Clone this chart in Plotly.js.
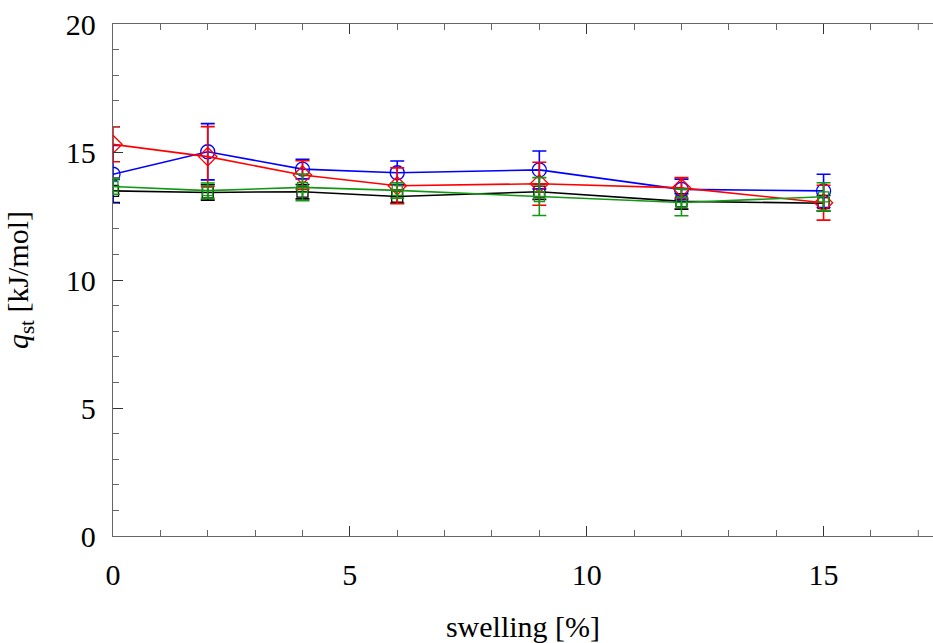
<!DOCTYPE html>
<html>
<head>
<meta charset="utf-8">
<script src="https://cdn.plot.ly/plotly-3.0.1.min.js"></script>
<style>
  html, body { margin: 0; padding: 0; overflow: hidden; background: #fff; }
  #chart { width: 933px; height: 643px; }
</style>
</head>
<body>
<div id="chart"></div>
<script>
// swelling levels [%]
const swelling = [0, 2, 4, 6, 9, 12, 15];

// isosteric heat q_st [kJ/mol] and its uncertainty, one pair per series
const blackQ   = [13.48, 13.42, 13.45, 13.26, 13.45, 13.07, 13.00];
const blackErr = [0.45, 0.30, 0.28, 0.25, 0.30, 0.30, 0.30];

const blueQ    = [14.13, 15.01, 14.33, 14.19, 14.30, 13.54, 13.48];
const blueErr  = [1.13, 1.10, 0.38, 0.46, 0.74, 0.40, 0.65];

const redQ     = [15.30, 14.82, 14.10, 13.68, 13.76, 13.60, 13.02];
const redErr   = [0.68, 1.17, 0.56, 0.70, 0.84, 0.40, 0.68];

const greenQ   = [13.65, 13.49, 13.62, 13.50, 13.26, 13.03, 13.25];
const greenErr = [0.30, 0.30, 0.52, 0.30, 0.74, 0.52, 0.55];

// axis tick positions
const xMajor = [0, 5, 10, 15];
const xMinor = [1, 2, 3, 4, 6, 7, 8, 9, 11, 12, 13, 14, 16];
const xEdgeMinor = 17;   // drawn as short shape ticks (a minor tick here renders full height)
const yMajor = [0, 5, 10, 15, 20];

function series(y, err, color, symbol, size) {
  return {
    x: swelling,
    y: y,
    type: 'scatter',
    mode: 'lines+markers',
    line: { color: color, width: 1.6 },
    marker: { symbol: symbol, size: size, color: color, line: { color: color, width: 1.3 } },
    error_y: { type: 'data', array: err, visible: true, color: color, thickness: 1.6, width: 7 },
    showlegend: false
  };
}

const traces = [
  series(blackQ, blackErr, '#000000', 'square-open', 11),
  series(blueQ, blueErr, '#0000ff', 'circle-open', 14),
  series(redQ, redErr, '#ff0000', 'diamond-open', 14),
  series(greenQ, greenErr, '#129912', 'square-open', 10)
];

const serif = '"Liberation Serif", "Times New Roman", serif';
const textFont = { family: serif, size: 30, color: '#000' };

const plotH = 643 - 24 - 107;
const minorLen = 6 / plotH;
const edgeTick = (y0, y1) => ({
  type: 'line', xref: 'x', yref: 'paper',
  x0: xEdgeMinor, x1: xEdgeMinor, y0: y0, y1: y1,
  line: { color: '#666', width: 1 }
});

const layout = {
  width: 933,
  height: 643,
  margin: { l: 113, r: 0, t: 24, b: 107 },
  paper_bgcolor: '#fff',
  plot_bgcolor: '#fff',
  font: textFont,
  shapes: [edgeTick(0, minorLen), edgeTick(1 - minorLen, 1)],
  xaxis: {
    range: [0, 17.31],
    tickvals: xMajor,
    ticks: 'inside',
    ticklen: 10,
    tickwidth: 1,
    tickcolor: '#333',
    minor: { tickvals: xMinor, ticks: 'inside', ticklen: 6, tickwidth: 1, tickcolor: '#666', showgrid: false },
    showline: true,
    linecolor: '#666',
    linewidth: 1.2,
    mirror: 'ticks',
    showgrid: false,
    zeroline: false,
    tickfont: textFont,
    ticklabelstandoff: 12,
    title: { text: 'swelling [%]', font: textFont, standoff: 28 }
  },
  yaxis: {
    range: [0, 20],
    tickvals: yMajor,
    ticks: 'inside',
    ticklen: 10,
    tickwidth: 1,
    tickcolor: '#333',
    minor: { tick0: 0, dtick: 1, ticks: 'inside', ticklen: 6, tickwidth: 1, tickcolor: '#666', showgrid: false },
    showline: true,
    linecolor: '#666',
    linewidth: 1.2,
    mirror: false,
    showgrid: false,
    zeroline: false,
    tickfont: textFont,
    ticklabelstandoff: 10,
    title: { text: '<i>q</i><sub>st</sub> [kJ/mol]', font: textFont, standoff: 28 }
  }
};

Plotly.newPlot('chart', traces, layout, { staticPlot: true, displayModeBar: false });
</script>
</body>
</html>
